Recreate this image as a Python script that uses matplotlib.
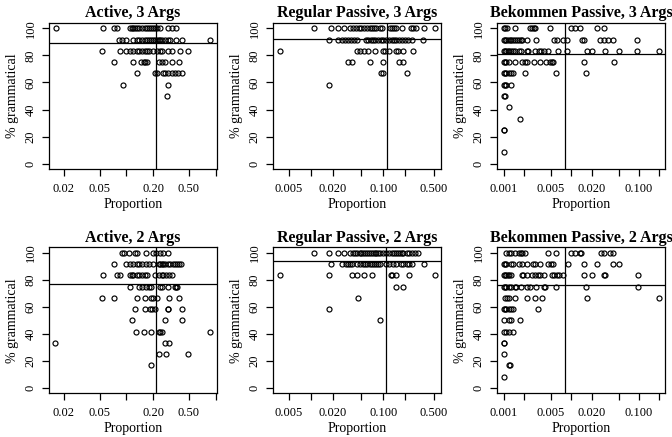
import numpy as np
import matplotlib
matplotlib.use("Agg")
import matplotlib.pyplot as plt
from matplotlib.ticker import FixedLocator, NullLocator

plt.rcParams['font.family'] = ['Liberation Serif', 'DejaVu Serif']

# proportions per score level (score = judgements out of 12 counted grammatical)
active3 = {
    12: [0.0163, 0.055, 0.072, 0.079, 0.11, 0.115, 0.12, 0.125, 0.13, 0.14, 0.15, 0.16,
         0.17, 0.18, 0.19, 0.20, 0.21, 0.22, 0.235, 0.29, 0.32, 0.36],
    11: [0.082, 0.089, 0.10, 0.12, 0.13, 0.14, 0.15, 0.16, 0.17, 0.18, 0.19, 0.20, 0.21,
         0.22, 0.23, 0.24, 0.25, 0.27, 0.29, 0.31, 0.36, 0.42, 0.87],
    10: [0.053, 0.085, 0.10, 0.11, 0.12, 0.13, 0.14, 0.15, 0.16, 0.17, 0.18, 0.20, 0.22,
         0.24, 0.25, 0.29, 0.32, 0.40, 0.49],
    9: [0.073, 0.12, 0.146, 0.156, 0.16, 0.17, 0.23, 0.25, 0.27, 0.32, 0.39],
    8: [0.13, 0.21, 0.22, 0.26, 0.27, 0.29, 0.32, 0.35, 0.38, 0.42],
    7: [0.091, 0.29],
    6: [0.285],
}
regpass3 = {
    12: [0.011, 0.019, 0.024, 0.0285, 0.035, 0.038, 0.042, 0.046, 0.05, 0.055, 0.06, 0.065,
         0.07, 0.075, 0.08, 0.09, 0.095, 0.125, 0.13, 0.14, 0.15, 0.18, 0.24, 0.26, 0.28,
         0.37, 0.52],
    11: [0.018, 0.024, 0.027, 0.03, 0.033, 0.036, 0.04, 0.044, 0.057, 0.062, 0.067, 0.072,
         0.078, 0.085, 0.092, 0.10, 0.11, 0.12, 0.13, 0.14, 0.15, 0.165, 0.18, 0.20, 0.22,
         0.25, 0.35],
    10: [0.0037, 0.044, 0.048, 0.054, 0.062, 0.078, 0.10, 0.105, 0.12, 0.15, 0.16, 0.19, 0.26],
    9: [0.033, 0.037, 0.065, 0.10, 0.167, 0.19],
    8: [0.092, 0.098, 0.21],
    7: [0.018],
}
bek3 = {
    12: [0.001, 0.00106, 0.00113, 0.0015, 0.00243, 0.0026, 0.0028, 0.0029, 0.0049, 0.010,
         0.0113, 0.0133, 0.0243, 0.031],
    11: [0.001, 0.00105, 0.0011, 0.00118, 0.00125, 0.0013, 0.0014, 0.0015, 0.0016, 0.0017,
         0.0018, 0.0019, 0.0022, 0.003, 0.0056, 0.0061, 0.0076, 0.0088, 0.0144, 0.0154,
         0.027, 0.030, 0.035, 0.042, 0.094],
    10: [0.001, 0.00104, 0.0011, 0.00115, 0.0012, 0.0013, 0.0014, 0.0015, 0.0017, 0.0018,
         0.0022, 0.0023, 0.0029, 0.0033, 0.0036, 0.004, 0.0045, 0.0064, 0.0088, 0.0173,
         0.020, 0.032, 0.050, 0.095, 0.20],
    9: [0.001, 0.00105, 0.0011, 0.0012, 0.0015, 0.0019, 0.0021, 0.0022, 0.0028, 0.0035,
        0.0043, 0.0049, 0.0052, 0.0054, 0.0154, 0.043],
    8: [0.001, 0.00105, 0.0011, 0.0012, 0.0013, 0.00137, 0.0021, 0.006, 0.0166],
    7: [0.001, 0.00105, 0.0011, 0.0013],
    6: [0.001, 0.00106],
    5: [0.0012],
    4: [0.00176],
    3: [0.001, 0.00103],
    1: [0.001],
}
active2 = {
    12: [0.089, 0.095, 0.107, 0.125, 0.13, 0.165, 0.20, 0.216, 0.24, 0.26, 0.29],
    11: [0.073, 0.10, 0.11, 0.12, 0.13, 0.14, 0.15, 0.165, 0.18, 0.20, 0.23, 0.24, 0.25,
         0.26, 0.27, 0.29, 0.31, 0.33, 0.35, 0.37, 0.39, 0.41],
    10: [0.055, 0.078, 0.085, 0.11, 0.115, 0.12, 0.13, 0.14, 0.15, 0.16, 0.17, 0.21, 0.23,
         0.25, 0.26, 0.28, 0.30, 0.32],
    9: [0.11, 0.14, 0.15, 0.165, 0.18, 0.19, 0.24, 0.25, 0.29, 0.35, 0.36, 0.37],
    8: [0.054, 0.073, 0.13, 0.16, 0.19, 0.20, 0.22, 0.30, 0.39],
    7: [0.125, 0.16, 0.185, 0.195, 0.21, 0.29, 0.295, 0.42],
    6: [0.115, 0.27, 0.42],
    5: [0.127, 0.158, 0.19, 0.23, 0.24, 0.25, 0.87],
    4: [0.016, 0.27, 0.30],
    3: [0.23, 0.28, 0.49],
    2: [0.19],
}
regpass2 = {
    12: [0.011, 0.018, 0.024, 0.0285, 0.035, 0.038, 0.041, 0.044, 0.047, 0.05, 0.053, 0.056,
         0.06, 0.064, 0.068, 0.072, 0.076, 0.08, 0.085, 0.09, 0.10, 0.11, 0.12, 0.13, 0.14,
         0.15, 0.16, 0.17, 0.18, 0.19, 0.21, 0.23, 0.25, 0.27, 0.30],
    11: [0.019, 0.027, 0.031, 0.033, 0.035, 0.037, 0.044, 0.048, 0.052, 0.056, 0.06, 0.065,
         0.07, 0.075, 0.08, 0.085, 0.09, 0.11, 0.12, 0.135, 0.15, 0.175, 0.19, 0.21, 0.23,
         0.25, 0.36],
    10: [0.0037, 0.018, 0.037, 0.044, 0.054, 0.069, 0.126, 0.13, 0.15, 0.23, 0.52],
    9: [0.15, 0.187],
    8: [0.045],
    7: [0.018],
    6: [0.09],
}
bek2 = {
    12: [0.0011, 0.0012, 0.0013, 0.0015, 0.0017, 0.0018, 0.0019, 0.0021, 0.0045, 0.006,
         0.010, 0.0113, 0.0133, 0.0141, 0.028, 0.031, 0.037, 0.042],
    11: [0.001, 0.00106, 0.0011, 0.0013, 0.0014, 0.0017, 0.0019, 0.0022, 0.0027, 0.0029,
         0.0035, 0.0045, 0.005, 0.0054, 0.009, 0.0154, 0.0243, 0.042, 0.050],
    10: [0.001, 0.00104, 0.0011, 0.00115, 0.0012, 0.0013, 0.0019, 0.00195, 0.0022, 0.0026,
         0.0029, 0.0032, 0.0035, 0.004, 0.0052, 0.0056, 0.0062, 0.0067, 0.0076, 0.0154,
         0.020, 0.030, 0.032, 0.096],
    9: [0.001, 0.00104, 0.0011, 0.0012, 0.0013, 0.0015, 0.00152, 0.0018, 0.0022, 0.0025,
        0.003, 0.0039, 0.0041, 0.006, 0.0163, 0.098],
    8: [0.00106, 0.00113, 0.0012, 0.0015, 0.0022, 0.0029, 0.0037, 0.0173, 0.20],
    7: [0.001, 0.00105, 0.0011, 0.0012, 0.0013, 0.0014, 0.0032],
    6: [0.00103, 0.0012, 0.0013, 0.00176],
    5: [0.001, 0.0011, 0.0012, 0.0014],
    4: [0.001, 0.00103],
    3: [0.001],
    2: [0.0012, 0.00123],
    1: [0.001],
}

titles = ["Active, 3 Args", "Regular Passive, 3 Args", "Bekommen Passive, 3 Args",
          "Active, 2 Args", "Regular Passive, 2 Args", "Bekommen Passive, 2 Args"]
panels = [active3, regpass3, bek3, active2, regpass2, bek2]
vlines = [0.214, 0.114, 0.008, 0.214, 0.11, 0.008]
hlines = [89.2, 91.8, 80.7, 77.1, 94.1, 76.1]

ticks_a = [0.02, 0.05, 0.1, 0.2, 0.5, 1.0]
labels_a = ["0.02", "0.05", "", "0.20", "0.50", ""]
ticks_r = [0.005, 0.01, 0.02, 0.05, 0.1, 0.2, 0.5]
labels_r = ["0.005", "", "0.020", "", "0.100", "", "0.500"]
ticks_b = [0.001, 0.002, 0.005, 0.01, 0.02, 0.05, 0.1, 0.2]
labels_b = ["0.001", "", "0.005", "", "0.020", "", "0.100", ""]
xticks = [ticks_a, ticks_r, ticks_b] * 2
xlabels = [labels_a, labels_r, labels_b] * 2
xlims = [(0.0136, 1.026), (0.0030, 0.622), (0.0008, 0.241)] * 2

fig = plt.figure(figsize=(6.72, 4.37), dpi=100)
lefts = [0.0729, 0.4063, 0.7396]
bottoms = [0.6133, 0.1]

for i, d in enumerate(panels):
    ax = fig.add_axes([lefts[i % 3], bottoms[i // 3], 0.2496, 0.3341])
    xs = []
    ys = []
    for k, vals in d.items():
        xs += vals
        ys += [k / 12 * 100] * len(vals)
    ax.plot(xs, ys, 'o', ms=3.6, mfc='none', mec='black', mew=0.85)
    ax.axvline(vlines[i], color='black', lw=0.9)
    ax.axhline(hlines[i], color='black', lw=0.9)
    ax.set_xscale('log')
    ax.set_xlim(*xlims[i])
    ax.set_ylim(-4, 104)
    ax.xaxis.set_major_locator(FixedLocator(xticks[i]))
    ax.xaxis.set_minor_locator(NullLocator())
    ax.set_xticklabels(xlabels[i])
    ax.set_yticks([0, 20, 40, 60, 80, 100])
    ax.set_yticklabels(["0", "20", "40", "60", "80", "100"], rotation=90, va='center')
    ax.tick_params(length=5, width=0.9, labelsize=9)
    ax.tick_params(axis='x', pad=5)
    ax.tick_params(axis='y', pad=4)
    for s in ax.spines.values():
        s.set_linewidth(0.9)
    ax.set_title(titles[i], fontsize=11.5, fontweight='bold', pad=4)
    ax.set_xlabel("Proportion", fontsize=10, labelpad=2)
    ax.set_ylabel("% grammatical", fontsize=10, labelpad=4)

fig.savefig("out.png", dpi=100)
